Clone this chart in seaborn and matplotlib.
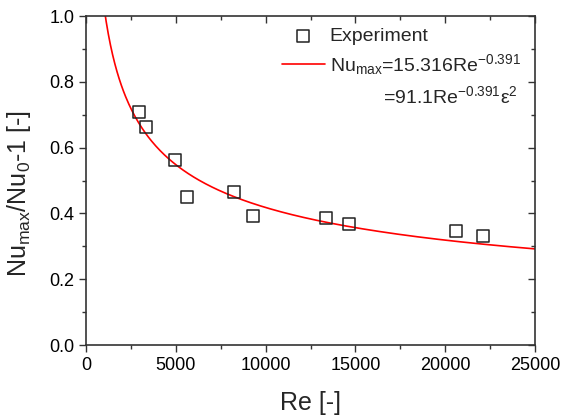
import matplotlib
matplotlib.use("Agg")
import matplotlib.pyplot as plt
import seaborn as sns
import numpy as np
import pandas as pd
from matplotlib.ticker import MultipleLocator, FormatStrFormatter

re_exp = [2950, 3340, 4950, 5620, 8240, 9300, 13350, 14640, 20600, 22100]
nu_exp = [0.708, 0.663, 0.562, 0.450, 0.465, 0.392, 0.386, 0.368, 0.347, 0.331]

# fitted correlation from the legend
fit_coef = 15.316
fit_exp = -0.391
re_fit = np.linspace(1000, 25000, 400)
nu_fit = fit_coef * re_fit ** fit_exp

df_exp = pd.DataFrame({"Re": re_exp, "Nu": nu_exp})
df_fit = pd.DataFrame({"Re": re_fit, "Nu": nu_fit})

sns.set_style("ticks")
plt.rcParams['font.family'] = ['Liberation Sans', 'DejaVu Sans']
plt.rcParams['mathtext.default'] = 'regular'

fig, ax = plt.subplots(figsize=(5.63, 4.19), dpi=100)
fig.subplots_adjust(left=0.1528, right=0.9503, top=0.9618, bottom=0.1766)

sns.scatterplot(data=df_exp, x="Re", y="Nu", ax=ax, marker="s", s=75,
                facecolor="none", edgecolor="#222222", linewidth=1.1,
                label="Experiment", zorder=3)
sns.lineplot(data=df_fit, x="Re", y="Nu", ax=ax, color="red", linewidth=1.2,
             label=r"Nu$_{max}$=15.316Re$^{-0.391}$", zorder=2)

ax.set_xlim(0, 25000)
ax.set_ylim(0.0, 1.0)
ax.xaxis.set_major_locator(MultipleLocator(5000))
ax.xaxis.set_minor_locator(MultipleLocator(2500))
ax.yaxis.set_major_locator(MultipleLocator(0.2))
ax.yaxis.set_minor_locator(MultipleLocator(0.1))
ax.yaxis.set_major_formatter(FormatStrFormatter('%.1f'))

for sp in ax.spines.values():
    sp.set_visible(True)
    sp.set_color("#333333")
    sp.set_linewidth(1.2)

ax.tick_params(which="both", direction="out", colors="#333333", labelcolor="black",
               labelsize=13, width=1.0)
ax.tick_params(which="major", length=5)
ax.tick_params(which="minor", length=3)

# inward ticks on top and right
axt = ax.secondary_xaxis('top')
axt.xaxis.set_major_locator(MultipleLocator(5000))
axt.xaxis.set_minor_locator(MultipleLocator(2500))
axt.tick_params(which="both", direction="in", labeltop=False, colors="#333333", width=1.0)
axt.tick_params(which="major", length=5)
axt.tick_params(which="minor", length=3)
axt.spines['top'].set_visible(False)
axr = ax.secondary_yaxis('right')
axr.yaxis.set_major_locator(MultipleLocator(0.2))
axr.yaxis.set_minor_locator(MultipleLocator(0.1))
axr.tick_params(which="both", direction="in", labelright=False, colors="#333333", width=1.0)
axr.tick_params(which="major", length=5)
axr.tick_params(which="minor", length=3)
axr.spines['right'].set_visible(False)

ax.set_xlabel("Re [-]", fontsize=18)
ax.set_ylabel(r"Nu$_{max}$/Nu$_{0}$-1 [-]", fontsize=18)
ax.xaxis.set_label_coords(0.5, -0.14)
ax.yaxis.set_label_coords(-0.118, 0.46)

ax.legend(loc="upper left", bbox_to_anchor=(0.419, 0.988), frameon=False,
          fontsize=14, handlelength=2.2, handletextpad=0.26, borderaxespad=0,
          labelspacing=0.35)
ax.text(0.662, 0.736, r"=91.1Re$^{-0.391}$ε$^{2}$", transform=ax.transAxes,
        fontsize=14, ha="left", va="baseline")

plt.savefig("out.png", dpi=100)
